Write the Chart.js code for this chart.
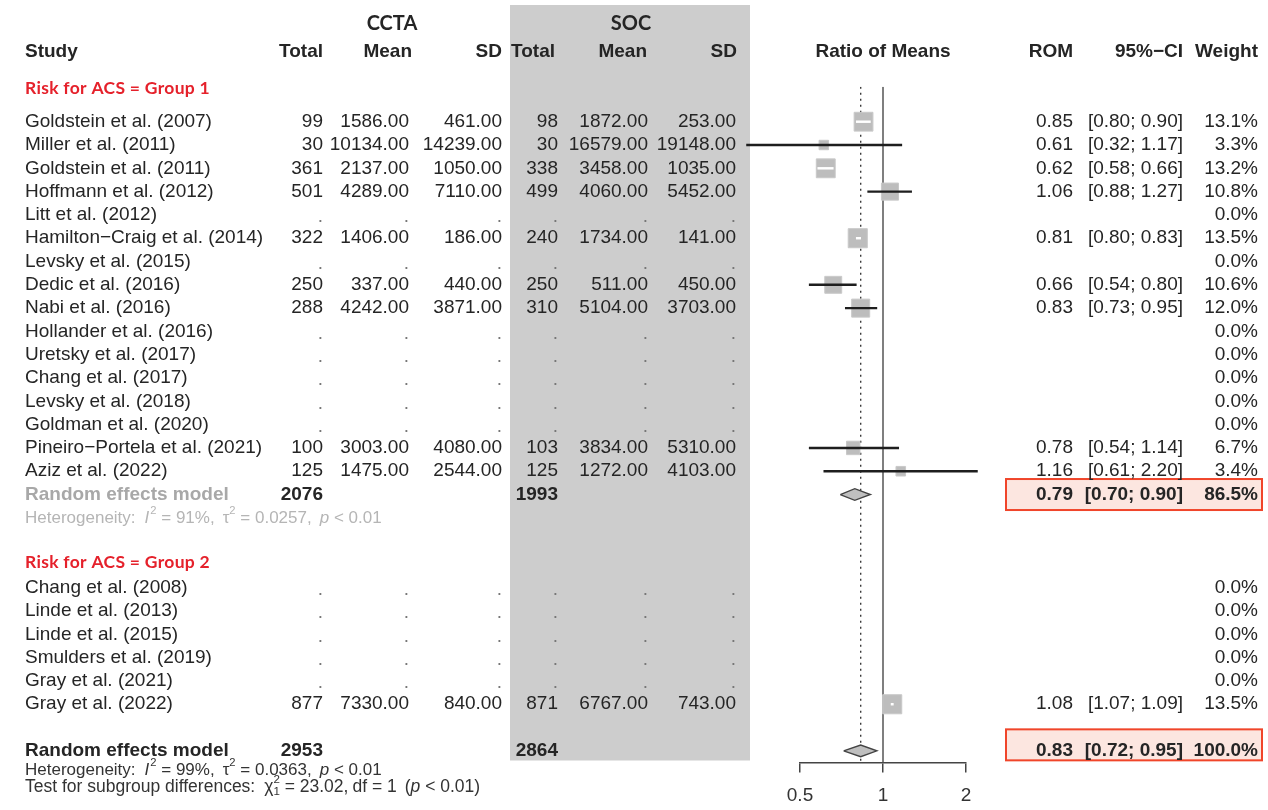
<!DOCTYPE html>
<html>
<head>
<meta charset="utf-8">
<title>Forest plot - ROM</title>
<script src="https://cdn.jsdelivr.net/npm/chart.js@4.4.1/dist/chart.umd.min.js"></script>
<style>
    html, body { margin: 0; padding: 0; background: #fff; }
    #wrap { width: 1268px; height: 810px; position: relative; }
</style>
</head>
<body>
<div id="wrap"><canvas id="forest" width="1268" height="810"></canvas></div>
<script>
// ---- data ----
var studies = [
    "Goldstein et al. (2007)", "Miller et al. (2011)", "Goldstein et al. (2011)", "Hoffmann et al. (2012)",
    "Litt et al. (2012)", "Hamilton\u2212Craig et al. (2014)", "Levsky et al. (2015)", "Dedic et al. (2016)",
    "Nabi et al. (2016)", "Hollander et al. (2016)", "Uretsky et al. (2017)", "Chang et al. (2017)",
    "Levsky et al. (2018)", "Goldman et al. (2020)", "Pineiro\u2212Portela et al. (2021)", "Aziz et al. (2022)",
    "Chang et al. (2008)", "Linde et al. (2013)", "Linde et al. (2015)", "Smulders et al. (2019)",
    "Gray et al. (2021)", "Gray et al. (2022)"
];
var group      = [1,1,1,1,1,1,1,1,1,1,1,1,1,1,1,1, 2,2,2,2,2,2];
var ccta_total = [99, 30, 361, 501, null, 322, null, 250, 288, null, null, null, null, null, 100, 125, null, null, null, null, null, 877];
var ccta_mean  = [1586, 10134, 2137, 4289, null, 1406, null, 337, 4242, null, null, null, null, null, 3003, 1475, null, null, null, null, null, 7330];
var ccta_sd    = [461, 14239, 1050, 7110, null, 186, null, 440, 3871, null, null, null, null, null, 4080, 2544, null, null, null, null, null, 840];
var soc_total  = [98, 30, 338, 499, null, 240, null, 250, 310, null, null, null, null, null, 103, 125, null, null, null, null, null, 871];
var soc_mean   = [1872, 16579, 3458, 4060, null, 1734, null, 511, 5104, null, null, null, null, null, 3834, 1272, null, null, null, null, null, 6767];
var soc_sd     = [253, 19148, 1035, 5452, null, 141, null, 450, 3703, null, null, null, null, null, 5310, 4103, null, null, null, null, null, 743];
var rom        = [0.85, 0.61, 0.62, 1.06, null, 0.81, null, 0.66, 0.83, null, null, null, null, null, 0.78, 1.16, null, null, null, null, null, 1.08];
var ci_lo      = [0.80, 0.32, 0.58, 0.88, null, 0.80, null, 0.54, 0.73, null, null, null, null, null, 0.54, 0.61, null, null, null, null, null, 1.07];
var ci_hi      = [0.90, 1.17, 0.66, 1.27, null, 0.83, null, 0.80, 0.95, null, null, null, null, null, 1.14, 2.20, null, null, null, null, null, 1.09];
var weight     = [13.1, 3.3, 13.2, 10.8, 0, 13.5, 0, 10.6, 12.0, 0, 0, 0, 0, 0, 6.7, 3.4, 0, 0, 0, 0, 0, 13.5];

// pooled rows: subgroup 1 model, overall model
var model_ccta_total = [2076, 2953];
var model_soc_total  = [1993, 2864];
var model_rom        = [0.79, 0.83];
var model_lo         = [0.70, 0.72];
var model_hi         = [0.90, 0.95];
var model_weight     = [86.5, 100.0];
var het_i2   = ["91%", "99%"];
var het_tau2 = ["0.0257", "0.0363"];
var het_p    = ["< 0.01", "< 0.01"];
var subgroup_chi2 = "23.02";
var subgroup_df = "1";
var subgroup_p = "< 0.01";
var group_labels = ["Risk for ACS = Group 1", "Risk for ACS = Group 2"];
var x_ticks = [0.5, 1, 2];

// ---- layout (pixels) ----
var FONT = '"Liberation Sans", Arial, sans-serif';
var COL = { study: 25, cTot: 323, cMean: 409, cSD: 502, sTot: 558, sMean: 648, sSD: 736, rom: 1073, ci: 1183, w: 1258 };
var INK = '#252525';

window.onload = main;

function main() {
    var lay = layout_rows();
    var rows = lay.rows, model_rows = lay.model_rows;
    var row_min = -1.5;
    var row_max = model_rows[model_rows.length - 1] + 0.5;

    var squares = [], cis = [];
    for (var i = 0; i < studies.length; i++) {
        if (rom[i] === null) continue;
        squares.push({x: rom[i], y: rows[i], w: weight[i]});
        cis.push({x: [ci_lo[i], ci_hi[i]], y: rows[i], w: weight[i]});
    }

    var datasets = [
        {
            type: 'line', label: 'no effect',
            data: [{x: 1, y: row_min}, {x: 1, y: row_max}],
            borderColor: '#555', borderWidth: 1.5, pointRadius: 0, order: 6
        },
        {
            type: 'line', label: 'overall estimate',
            data: [{x: model_rom[1], y: row_min}, {x: model_rom[1], y: row_max}],
            borderColor: '#3a3a3a', borderWidth: 1.4, borderDash: [2, 4], pointRadius: 0, order: 5
        },
        {
            type: 'scatter', label: 'studies',
            data: squares,
            pointStyle: 'rect',
            pointRadius: (ctx) => ctx.raw ? square_side(ctx.raw.w) / Math.SQRT2 : 0,
            backgroundColor: '#bdbdbd', borderColor: '#c9c9c9', borderWidth: 1,
            order: 4, clip: false
        },
        {
            type: 'bar', label: 'ci', indexAxis: 'y',
            data: cis,
            barThickness: 1.8, grouped: false,
            backgroundColor: (ctx) => {
                var d = ctx.raw;
                if (!d) return '#1e1e1e';
                var xs = ctx.chart.scales.x;
                var span = xs.getPixelForValue(d.x[1]) - xs.getPixelForValue(d.x[0]);
                // R meta draws the CI white when it fits inside the square
                return span < square_side(d.w) ? '#ffffff' : '#1e1e1e';
            },
            order: 3, clip: false
        }
    ];

    for (var m = 0; m < model_rom.length; m++) {
        var r = model_rows[m], h = 0.25;
        datasets.push({
            type: 'line', label: 'model ' + (m + 1),
            data: [
                {x: model_lo[m], y: r}, {x: model_rom[m], y: r - h},
                {x: model_hi[m], y: r}, {x: model_rom[m], y: r + h},
                {x: model_lo[m], y: r}
            ],
            fill: 'shape', backgroundColor: '#bfbfbf',
            borderColor: '#444', borderWidth: 1.4, pointRadius: 0, tension: 0,
            order: 2
        });
    }

    var ctx = document.getElementById('forest').getContext('2d');
    new Chart(ctx, {
        type: 'scatter',
        data: { datasets: datasets },
        options: {
            responsive: false,
            animation: false,
            devicePixelRatio: 1,
            layout: { padding: { left: 800, right: 302, top: 86.75, bottom: 0 } },
            plugins: { legend: { display: false }, tooltip: { enabled: false } },
            scales: {
                x: {
                    type: 'logarithmic', min: x_ticks[0], max: x_ticks[x_ticks.length - 1],
                    offset: false, beginAtZero: false,
                    afterBuildTicks: (s) => { s.ticks = x_ticks.map(v => ({value: v})); },
                    afterFit: (s) => { s.height = 47.5; },
                    ticks: {
                        callback: (v) => String(v),
                        font: { family: FONT, size: 19 }, color: '#333',
                        padding: 12, maxRotation: 0, autoSkip: false
                    },
                    grid: { drawOnChartArea: false, drawTicks: true, tickLength: 10, color: '#444', lineWidth: 1.5, offset: false },
                    border: { display: true, color: '#444', width: 1.5 }
                },
                y: {
                    type: 'linear', reverse: true, min: row_min, max: row_max, display: false,
                    offset: false, grid: { offset: false }
                }
            }
        },
        plugins: [{
            id: 'panels',
            beforeDraw: (chart) => draw_panels(chart, model_rows)
        }, {
            id: 'table',
            afterDraw: (chart) => draw_table(chart, rows, model_rows)
        }]
    });
}

function square_side(w) {
    return 5.2 * Math.sqrt(w);
}

function layout_rows() {
    var rows = [], model_rows = [];
    var r = 0, cur = group[0];
    for (var i = 0; i < studies.length; i++) {
        if (group[i] !== cur) {
            model_rows.push(r);
            r += 4; // model, heterogeneity, blank, subgroup label
            cur = group[i];
        }
        rows.push(r);
        r++;
    }
    model_rows.push(r + 1);
    return {rows: rows, model_rows: model_rows};
}

function draw_panels(chart, model_rows) {
    var c = chart.ctx, ys = chart.scales.y;
    c.save();
    c.fillStyle = '#cdcdcd';
    c.fillRect(510, 5, 240, chart.chartArea.bottom - 7);

    // highlighted pooled estimates
    var offs = [-15.5, -21.5];
    for (var m = 0; m < model_rows.length; m++) {
        var y = ys.getPixelForValue(model_rows[m]) + offs[m];
        c.fillStyle = '#fce6e0';
        c.fillRect(1006, y, 256, 31);
        c.strokeStyle = '#f0452a';
        c.lineWidth = 2;
        c.strokeRect(1006, y, 256, 31);
    }
    c.restore();
}

function txt(c, s, x, y, align, font, color, spacing) {
    c.font = font;
    c.fillStyle = color || INK;
    c.textAlign = align;
    c.textBaseline = 'middle';
    c.letterSpacing = (spacing || 0) + 'px';
    c.fillText(s, x, y);
    c.letterSpacing = '0px';
}

// text made of pieces: n = normal, i = italic, sup / sub, supk = superscript that keeps x, gap = pixels
function rich(c, parts, x, y, size, color) {
    var cx = x;
    c.fillStyle = color;
    c.textAlign = 'left';
    c.textBaseline = 'middle';
    parts.forEach(p => {
        if (p[1] === 'gap') { cx += p[0]; return; }
        var f = size, dy = 0, st = '';
        if (p[1] === 'i') st = 'italic ';
        if (p[1] === 'sup' || p[1] === 'supk') { f = size * 0.66; dy = -size * 0.42; }
        if (p[1] === 'sub') { f = size * 0.66; dy = size * 0.3; }
        c.font = st + f + 'px ' + FONT;
        c.fillText(p[0], cx, y + dy);
        if (p[1] !== 'supk') cx += c.measureText(p[0]).width;
    });
}

function draw_table(chart, rows, model_rows) {
    var c = chart.ctx, ys = chart.scales.y, xs = chart.scales.x;
    var norm = '19px ' + FONT, bold = 'bold 19px ' + FONT;
    var py = (r) => ys.getPixelForValue(r);
    c.save();

    // column headers
    txt(c, 'CCTA', 392, py(-4.2), 'center', 'bold 20px Lato', INK);
    txt(c, 'SOC', 631, py(-4.2), 'center', 'bold 20px Lato', INK);
    var hy = py(-3);
    txt(c, 'Study', COL.study, hy, 'left', bold);
    txt(c, 'Total', COL.cTot, hy, 'right', bold);
    txt(c, 'Mean', 412, hy, 'right', bold);
    txt(c, 'SD', COL.cSD, hy, 'right', bold);
    txt(c, 'Total', 555, hy, 'right', bold);
    txt(c, 'Mean', 647, hy, 'right', bold);
    txt(c, 'SD', 737, hy, 'right', bold);
    txt(c, 'Ratio of Means', (xs.left + xs.right) / 2, hy, 'center', bold);
    txt(c, 'ROM', COL.rom, hy, 'right', bold);
    txt(c, '95%\u2212CI', COL.ci, hy, 'right', bold);
    txt(c, 'Weight', COL.w, hy, 'right', bold);

    // subgroup labels
    var label_rows = [-1.45, model_rows[0] + 2.9];
    for (var g = 0; g < group_labels.length; g++) {
        txt(c, group_labels[g], COL.study, py(label_rows[g]), 'left', 'bold 17.5px Lato', '#e5212b', 0.3);
    }

    // study rows
    for (var i = 0; i < studies.length; i++) {
        var y = py(rows[i]);
        txt(c, studies[i], COL.study, y, 'left', norm);
        if (rom[i] === null) {
            [COL.cTot, COL.cMean, COL.cSD, COL.sTot, COL.sMean, COL.sSD].forEach(x => txt(c, '.', x, y + 2, 'right', norm, '#777'));
        } else {
            txt(c, String(ccta_total[i]), COL.cTot, y, 'right', norm);
            txt(c, ccta_mean[i].toFixed(2), COL.cMean, y, 'right', norm);
            txt(c, ccta_sd[i].toFixed(2), COL.cSD, y, 'right', norm);
            txt(c, String(soc_total[i]), COL.sTot, y, 'right', norm);
            txt(c, soc_mean[i].toFixed(2), COL.sMean, y, 'right', norm);
            txt(c, soc_sd[i].toFixed(2), COL.sSD, y, 'right', norm);
            txt(c, rom[i].toFixed(2), COL.rom, y, 'right', norm);
            txt(c, '[' + ci_lo[i].toFixed(2) + '; ' + ci_hi[i].toFixed(2) + ']', COL.ci, y, 'right', norm);
        }
        txt(c, weight[i].toFixed(1) + '%', COL.w, y, 'right', norm);
    }

    // pooled rows
    var label_col = ['#a8a8a8', INK];
    var het_col = ['#b5b5b5', '#333'];
    var het_off = [1, 0.82];
    for (var m = 0; m < model_rows.length; m++) {
        var my = py(model_rows[m]);
        txt(c, 'Random effects model', COL.study, my, 'left', bold, label_col[m]);
        txt(c, String(model_ccta_total[m]), COL.cTot, my, 'right', bold);
        txt(c, String(model_soc_total[m]), COL.sTot, my, 'right', bold);
        txt(c, model_rom[m].toFixed(2), COL.rom, my, 'right', bold);
        txt(c, '[' + model_lo[m].toFixed(2) + '; ' + model_hi[m].toFixed(2) + ']', COL.ci, my, 'right', bold);
        txt(c, model_weight[m].toFixed(1) + '%', COL.w, my, 'right', bold);

        rich(c, [
            ['Heterogeneity:', 'n'], [9, 'gap'], ['I', 'i'], [1, 'gap'], ['2', 'sup'], [' = ' + het_i2[m] + ',', 'n'], [8, 'gap'],
            ['\u03c4', 'n'], ['2', 'sup'], [' = ' + het_tau2[m] + ',', 'n'], [8, 'gap'],
            ['p', 'i'], [' ' + het_p[m], 'n']
        ], COL.study, py(model_rows[m] + het_off[m]), 17, het_col[m]);
    }

    rich(c, [
        ['Test for subgroup differences:', 'n'], [9, 'gap'], ['\u03c7', 'n'], ['2', 'supk'], ['1', 'sub'],
        [' = ' + subgroup_chi2 + ',', 'n'], [4, 'gap'], ['df = ' + subgroup_df, 'n'], [8, 'gap'], ['(', 'n'],
        ['p', 'i'], [' ' + subgroup_p + ')', 'n']
    ], COL.study, py(model_rows[1] + 1.55), 17.5, '#333');

    c.restore();
}
</script>
</body>
</html>
